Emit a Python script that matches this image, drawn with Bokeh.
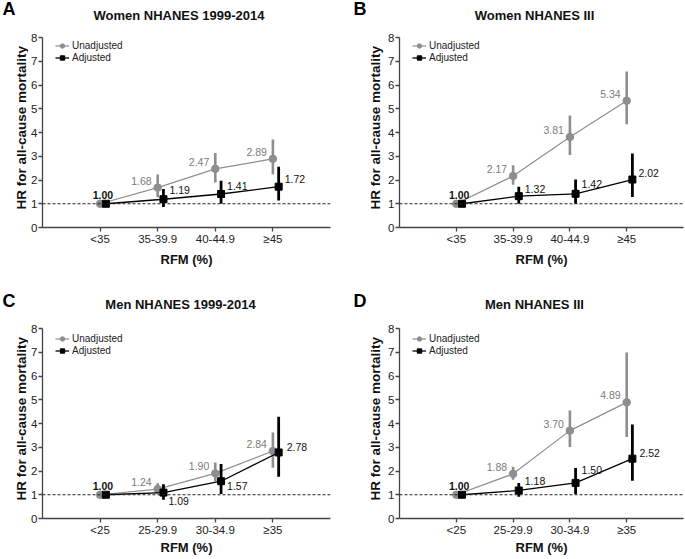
import math
from bokeh.plotting import figure
from bokeh.models import Range1d, FixedTicker, Span, Legend, LegendItem, ColumnDataSource
from bokeh.layouts import row, column
from bokeh.core.properties import value
from bokeh.embed import file_html
from bokeh.resources import INLINE

# ---------------- data ----------------
women_cats = ["<35", "35-39.9", "40-44.9", "≥45"]
men_cats = ["<25", "25-29.9", "30-34.9", "≥35"]
cat_pos = [1, 2, 3, 4]

panel_letters = ["A", "B", "C", "D"]
panel_titles = ["Women NHANES 1999-2014", "Women NHANES III",
                "Men NHANES 1999-2014", "Men NHANES III"]
y_title = "HR for all-cause mortality"
x_title = "RFM (%)"

a_un = [1.00, 1.68, 2.47, 2.89]
a_un_lo = [1.00, 1.27, 1.90, 2.24]
a_un_hi = [1.00, 2.23, 3.14, 3.71]
a_ad = [1.00, 1.19, 1.41, 1.72]
a_ad_lo = [1.00, 0.86, 1.00, 1.14]
a_ad_hi = [1.00, 1.62, 1.97, 2.56]

b_un = [1.00, 2.17, 3.81, 5.34]
b_un_lo = [1.00, 1.80, 3.05, 4.35]
b_un_hi = [1.00, 2.62, 4.72, 6.57]
b_ad = [1.00, 1.32, 1.42, 2.02]
b_ad_lo = [1.00, 1.00, 1.00, 1.28]
b_ad_hi = [1.00, 1.72, 2.02, 3.12]

c_un = [1.00, 1.24, 1.90, 2.84]
c_un_lo = [1.00, 1.05, 1.57, 2.14]
c_un_hi = [1.00, 1.48, 2.36, 3.62]
c_ad = [1.00, 1.09, 1.57, 2.78]
c_ad_lo = [1.00, 0.79, 1.03, 1.76]
c_ad_hi = [1.00, 1.44, 2.30, 4.28]

d_un = [1.00, 1.88, 3.70, 4.89]
d_un_lo = [1.00, 1.63, 3.01, 3.43]
d_un_hi = [1.00, 2.18, 4.55, 6.99]
d_ad = [1.00, 1.18, 1.50, 2.52]
d_ad_lo = [1.00, 0.92, 1.03, 1.59]
d_ad_hi = [1.00, 1.49, 2.13, 3.96]

# ---------------- styles ----------------
FONT = "Liberation Sans"
GRAY = "#8e8e8e"
GRAY_TXT = "#7a7a7a"
AXIS = "#444444"
DODGE = 0.1

# pixel offsets for adjusted-value labels (style only)
a_ad_lab_dy = [0, -9, -8, -7.5]
b_ad_lab_dy = [0, -7, -9.5, -7]
c_ad_lab_dy = [0, 8, 5, -5]
d_ad_lab_dy = [0, -9, -13, -6]
a_ad_lab_dx = [0, 6, 6, 6]
b_ad_lab_dx = [0, 6, 6, 6]
c_ad_lab_dx = [0, 5, 6, 8]
d_ad_lab_dx = [0, 6, 6, 7]

# header layout (pixels from the header's top-left)
hdr_letter_x = [2, 353]
hdr_title_x = [[178.5, 534], [180, 534]]
hdr_letter_y = [8.5, 31]
hdr_title_y = [15, 35]
hdr_height = [29, 51]
PAGE_W = 684

TOP_B = 8
BOT_B = 40


def make_header(k):
    h = hdr_height[k]
    p = figure(width=PAGE_W, height=h, x_range=Range1d(0, PAGE_W), y_range=Range1d(h, 0),
               output_backend="svg", toolbar_location=None, tools="",
               x_axis_type=None, y_axis_type=None, min_border=0)
    p.outline_line_color = None
    p.grid.visible = False
    p.text(x=hdr_letter_x, y=[hdr_letter_y[k]] * 2, text=panel_letters[2 * k:2 * k + 2],
           text_align="left", text_baseline="middle", text_color="#000000",
           text_font=value(FONT), text_font_style="bold", text_font_size="18px")
    p.text(x=hdr_title_x[k], y=[hdr_title_y[k]] * 2, text=panel_titles[2 * k:2 * k + 2],
           text_align="center", text_baseline="middle", text_color="#111111",
           text_font=value(FONT), text_font_style="bold", text_font_size="13px")
    return p


def make_ylabel(width, height, cx):
    """Narrow strip holding the rotated y-axis title, frame aligned with the panel's."""
    p = figure(width=width, height=height, x_range=Range1d(0, width), y_range=Range1d(0, 8),
               output_backend="svg", toolbar_location=None, tools="",
               x_axis_type=None, y_axis_type=None,
               min_border_left=0, min_border_right=0,
               min_border_top=TOP_B, min_border_bottom=BOT_B)
    p.outline_line_color = None
    p.grid.visible = False
    p.text(x=[cx], y=[4.2], text=[y_title], angle=math.pi / 2,
           text_align="center", text_baseline="middle", text_color="#111111",
           text_font=value(FONT), text_font_style="bold", text_font_size="13.5px")
    return p


def make_panel(cats, un, un_lo, un_hi, ad, ad_lo, ad_hi, lab_dy, lab_dx,
               width, height, left, right, xlab_standoff):
    fh = height - TOP_B - BOT_B
    p = figure(width=width, height=height, x_range=Range1d(0, 5), y_range=Range1d(0, 8),
               output_backend="svg", toolbar_location=None, tools="",
               min_border_left=left, min_border_right=right,
               min_border_top=TOP_B, min_border_bottom=BOT_B)
    p.outline_line_color = None
    p.grid.visible = False
    p.background_fill_color = "white"
    p.border_fill_color = "white"

    for ax in (p.xaxis, p.yaxis):
        ax.axis_line_color = AXIS
        ax.axis_line_width = 1.3
        ax.major_tick_line_color = AXIS
        ax.major_tick_line_width = 1.3
        ax.major_tick_out = 4
        ax.major_tick_in = 0
        ax.minor_tick_line_color = None
        ax.major_label_text_font = FONT
        ax.major_label_text_font_size = "11.5px"
        ax.major_label_text_color = "#222222"
        ax.major_label_standoff = 1
    p.yaxis.ticker = FixedTicker(ticks=[0, 1, 2, 3, 4, 5, 6, 7, 8])
    p.xaxis.ticker = FixedTicker(ticks=cat_pos)
    p.xaxis.major_label_overrides = {c: t for c, t in zip(cat_pos, cats)}
    p.xaxis.axis_label = x_title
    p.xaxis.axis_label_text_font = FONT
    p.xaxis.axis_label_text_font_style = "bold"
    p.xaxis.axis_label_text_color = "#111111"
    p.xaxis.axis_label_text_font_size = "13px"
    p.xaxis.axis_label_standoff = xlab_standoff

    p.add_layout(Span(location=1, dimension="width", line_color="#222222",
                      line_width=1, line_dash="3 2"))

    xa = [x + DODGE for x in cat_pos]

    gl = p.line(cat_pos, un, line_color=GRAY, line_width=1.2)
    p.segment(x0=cat_pos[1:], y0=un_lo[1:], x1=cat_pos[1:], y1=un_hi[1:],
              line_color=GRAY, line_width=2.6)
    gs = p.scatter(cat_pos, un, marker="circle", size=7.5, fill_color=GRAY, line_color=GRAY)

    bl = p.line(xa, ad, line_color="black", line_width=1.3)
    p.segment(x0=xa[1:], y0=ad_lo[1:], x1=xa[1:], y1=ad_hi[1:],
              line_color="black", line_width=2.8)
    bs = p.scatter(xa, ad, marker="square", size=7, fill_color="black", line_color="black")

    gsrc = ColumnDataSource(dict(x=cat_pos[1:], y=un[1:], t=["%.2f" % v for v in un[1:]]))
    p.text(x="x", y="y", text="t", source=gsrc, text_align="right", text_baseline="middle",
           x_offset=-6, y_offset=-7, text_color=GRAY_TXT,
           text_font=value(FONT), text_font_size="10.5px")
    bsrc = ColumnDataSource(dict(x=xa[1:], y=ad[1:], t=["%.2f" % v for v in ad[1:]],
                                 dx=lab_dx[1:], dy=lab_dy[1:]))
    p.text(x="x", y="y", text="t", source=bsrc, text_align="left", text_baseline="middle",
           x_offset="dx", y_offset="dy", text_color="#111111",
           text_font=value(FONT), text_font_size="10.5px")
    p.text(x=[cat_pos[0] + DODGE / 2], y=[ad[0]], text=["%.2f" % ad[0]],
           text_align="center", text_baseline="bottom", y_offset=-5,
           text_color="#111111", text_font=value(FONT), text_font_style="bold",
           text_font_size="10.5px")

    leg = Legend(items=[LegendItem(label="Unadjusted", renderers=[gl, gs]),
                        LegendItem(label="Adjusted", renderers=[bl, bs])],
                 location=(13, fh - 28), glyph_width=14, glyph_height=11,
                 label_height=11, label_standoff=3, spacing=1, padding=2, margin=0,
                 border_line_color=None, background_fill_alpha=0,
                 label_text_font=FONT, label_text_font_size="10px",
                 label_text_color="#222222")
    p.add_layout(leg)
    return p


H1 = TOP_B + 192 + BOT_B   # top row
H2 = TOP_B + 190 + BOT_B   # bottom row

ya = make_ylabel(28, H1, 21)
pa = make_panel(women_cats, a_un, a_un_lo, a_un_hi, a_ad, a_ad_lo, a_ad_hi,
                a_ad_lab_dy, a_ad_lab_dx, 310, H1, 13, 8, 4)
yb = make_ylabel(47, H1, 37)
pb = make_panel(women_cats, b_un, b_un_lo, b_un_hi, b_ad, b_ad_lo, b_ad_hi,
                b_ad_lab_dy, b_ad_lab_dx, 299, H1, 12, 1, 4)
yc = make_ylabel(28, H2, 21)
pc = make_panel(men_cats, c_un, c_un_lo, c_un_hi, c_ad, c_ad_lo, c_ad_hi,
                c_ad_lab_dy, c_ad_lab_dx, 310, H2, 13, 8, 1)
yd = make_ylabel(47, H2, 37)
pd = make_panel(men_cats, d_un, d_un_lo, d_un_hi, d_ad, d_ad_lo, d_ad_hi,
                d_ad_lab_dy, d_ad_lab_dx, 299, H2, 12, 1, 1)

layout = column(make_header(0), row(ya, pa, yb, pb), make_header(1), row(yc, pc, yd, pd))
open("out.html", "w").write(file_html(layout, INLINE))
